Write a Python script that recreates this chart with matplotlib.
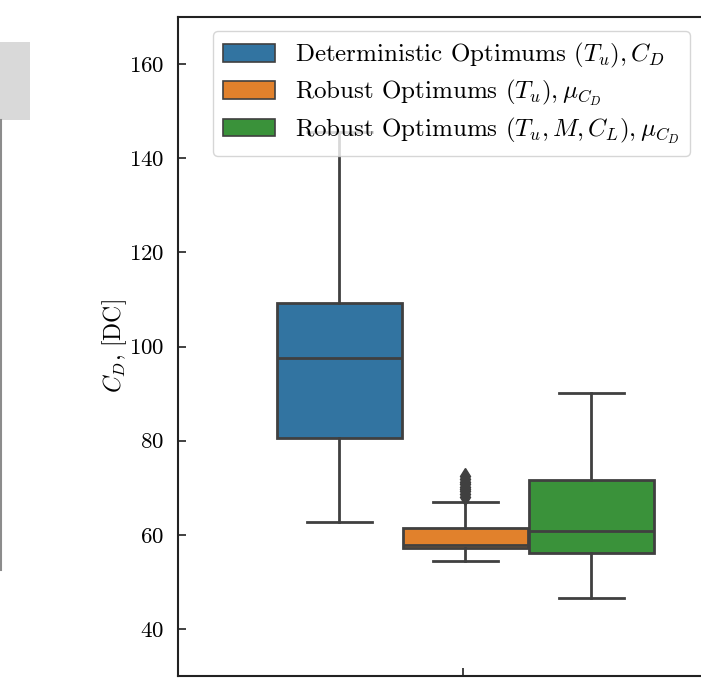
import matplotlib
matplotlib.use("Agg")
import matplotlib.pyplot as plt
from matplotlib.patches import Rectangle, Patch
from matplotlib.lines import Line2D

plt.rcParams['font.family'] = 'serif'
plt.rcParams['font.serif'] = ['cmr10', 'DejaVu Serif']
plt.rcParams['mathtext.fontset'] = 'cm'
plt.rcParams['axes.formatter.use_mathtext'] = True

# ---- data ----
series_labels = [
    r'Deterministic Optimums $(T_u), C_D$',
    r'Robust Optimums $(T_u), \mu_{C_D}$',
    r'Robust Optimums $(T_u, M, C_L), \mu_{C_D}$',
]
series_colors = ['#3274a1', '#e1812c', '#3a923a']
whislo = [62.8, 54.5, 46.6]
q1 = [80.5, 57.2, 56.2]
med = [97.5, 57.9, 60.9]
q3 = [109.3, 61.4, 71.7]
whishi = [145.5, 67.0, 90.1]
fliers = [[], [68.0, 68.6, 69.2, 69.7, 70.2, 70.7, 71.2, 71.8, 72.4], []]
yticks = [40, 60, 80, 100, 120, 140, 160]

W, H = 701, 680
fig = plt.figure(figsize=(W / 100, H / 100), dpi=100)

# remnants of a neighbouring panel on the left edge
fig.patches.append(Rectangle((0, 1 - 120 / H), 30 / W, 78 / H,
                             transform=fig.transFigure, facecolor='#d9d9d9',
                             edgecolor='none'))
fig.lines.append(Line2D([1 / W, 1 / W], [1 - 120 / H, 1 - 570 / H],
                        transform=fig.transFigure, color='#8c8c8c', lw=1.5))

left, right, top, bottom = 178, 748, 17, 676
ax = fig.add_axes([left / W, 1 - bottom / H, (right - left) / W, (bottom - top) / H])

edge = '#404040'
stats = []
for i in range(3):
    stats.append(dict(whislo=whislo[i], q1=q1[i], med=med[i], q3=q3[i],
                      whishi=whishi[i], fliers=fliers[i]))
offs = 0.221
positions = [-offs + 0.004, 0.004, offs + 0.004]
bp = ax.bxp(stats, positions=positions, widths=0.219, patch_artist=True,
            showfliers=True,
            boxprops=dict(edgecolor=edge, linewidth=2.0),
            medianprops=dict(color=edge, linewidth=2.0),
            whiskerprops=dict(color=edge, linewidth=2.0),
            capprops=dict(color=edge, linewidth=2.0),
            flierprops=dict(marker='d', markerfacecolor=edge, markeredgecolor=edge,
                            markersize=8),
            capwidths=0.114, manage_ticks=False)
for patch, c in zip(bp['boxes'], series_colors):
    patch.set_facecolor(c)

ax.set_xlim(-0.5, 0.5)
ax.set_ylim(30, 170)
ax.set_xticks([0])
ax.set_xticklabels([''])
ax.set_yticks(yticks)
ax.tick_params(axis='both', direction='in', length=6, width=1.3, color='#333333',
               labelsize=16.5, pad=10)
for s in ax.spines.values():
    s.set_linewidth(1.5)
    s.set_color('#222222')
ax.set_ylabel(r'$C_D$, [DC]', fontsize=17, labelpad=0)

handles = [Patch(facecolor=c, edgecolor=edge, linewidth=1.2) for c in series_colors]
leg = ax.legend(handles, series_labels, loc='upper right',
                bbox_to_anchor=(690 / W, 1 - 31 / H), bbox_transform=fig.transFigure,
                borderaxespad=0, fontsize=18, handlelength=2.1, handleheight=0.7,
                handletextpad=0.8, labelspacing=0.3, borderpad=0.4,
                fancybox=True, framealpha=0.8)
leg.get_frame().set_edgecolor('#cccccc')

fig.savefig('out.png', dpi=100)
